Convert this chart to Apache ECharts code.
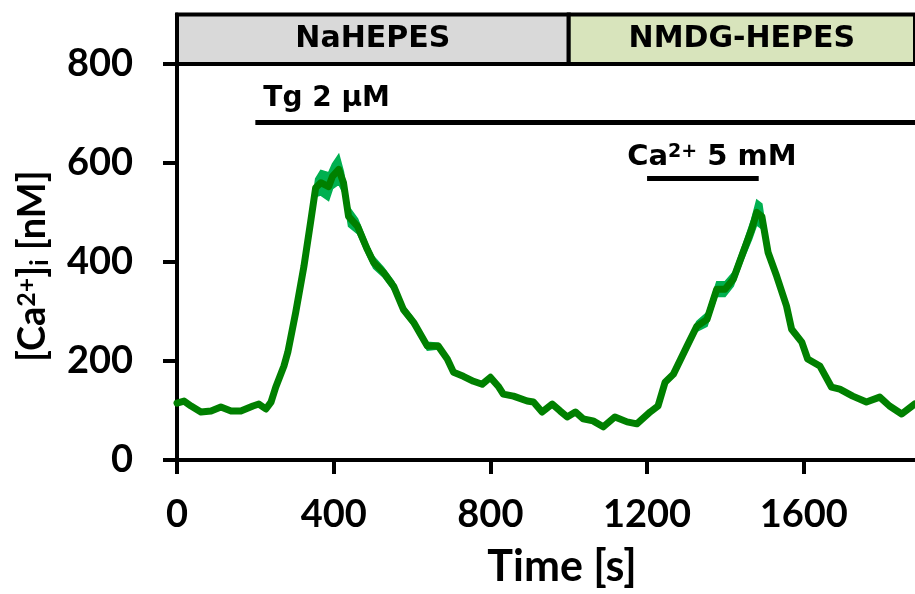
<!DOCTYPE html>
<html>
<head>
<meta charset="utf-8">
<script src="https://cdn.jsdelivr.net/npm/echarts@6/dist/echarts.min.js"></script>
<style>
html,body{margin:0;padding:0;background:#fff;}
#chart{width:915px;height:594px;}
</style>
</head>
<body>
<div id="chart"></div>
<script>
// Time points [s]
const time = [0,18,36,61,87,112,138,163,194,209,227,240,252,273,283,303,324,341,354,367,387,397,413,425,438,461,486,502,527,553,578,604,639,667,690,706,731,757,779,800,820,833,859,894,910,932,958,978,996,1017,1037,1062,1088,1118,1149,1174,1208,1228,1246,1267,1302,1327,1353,1378,1399,1420,1445,1467,1480,1493,1509,1531,1556,1569,1595,1610,1641,1671,1692,1725,1760,1794,1819,1850,1883];
// Mean [Ca2+]i [nM]
const meanCa = [115,119,109,97,99,107,99,99,109,113,103,117,147,190,218,298,391,480,550,560,552,573,587,560,492,472,425,399,379,351,304,278,230,230,204,177,169,159,153,167,149,133,129,119,117,97,113,99,87,97,83,79,67,87,77,73,97,109,157,173,230,270,284,345,345,365,419,466,500,492,419,371,311,264,238,204,190,147,143,129,117,127,109,93,113];
// SEM band half-width [nM]
const semCa = [3,3,3,3,3,3,3,3,3,3,3,4,5,6,6,8,10,12,18,25,28,25,30,22,20,15,12,12,10,10,8,8,8,6,5,4,4,4,3,3,3,3,3,3,3,3,3,3,3,3,3,3,3,3,3,3,3,4,6,6,10,10,14,15,15,14,15,20,25,25,12,8,7,6,6,5,4,3,3,3,3,3,3,3,3];

const xTicks = [0,400,800,1200,1600];
const yTicks = [0,200,400,600,800];

// Solution periods (header boxes)
const periods = [
  {name:'NaHEPES', start:0, end:1000, color:'#d9d9d9'},
  {name:'NMDG-HEPES', start:1000, end:1960, color:'#d8e4bc'}
];
// Application bars
const tgBar = {label:'Tg 2 µM', start:200, end:1884, level:682};
const caBar = {label:'Ca{sup|2+} 5 mM', start:1200, end:1485, level:570};

const TICKFONT = 'Lato';
const HFONT = 'DejaVu Sans';
const meanData = time.map((t,i)=>[t, meanCa[i]]);

const chart = echarts.init(document.getElementById('chart'), null, {renderer:'canvas'});
chart.setOption({
  animation:false,
  backgroundColor:'#ffffff',
  textStyle:{fontFamily:TICKFONT, fontWeight:'bold', color:'#000'},
  grid:{left:177, right:0, top:14.4, bottom:133.3, containLabel:false},
  xAxis:{
    type:'value', min:0, max:1884, interval:400,
    name:'Time [s]', nameLocation:'middle', nameGap:86,
    nameTextStyle:{fontFamily:TICKFONT, fontWeight:'bold', fontSize:43, color:'#000', padding:[0,0,0,32]},
    axisLine:{show:true, onZero:false, lineStyle:{color:'#000', width:4}},
    axisTick:{show:true, inside:false, length:14, lineStyle:{color:'#000', width:4}, customValues:xTicks},
    axisLabel:{fontFamily:TICKFONT, fontWeight:'bold', fontSize:38, color:'#000', margin:36, customValues:xTicks,
      formatter:v=>String(v)},
    splitLine:{show:false}
  },
  yAxis:{
    type:'value', min:0, max:900, interval:200,
    name:'[Ca{sup|2+}]{sub|i} [nM]', nameLocation:'middle', nameGap:125, nameRotate:90,
    nameTextStyle:{fontFamily:TICKFONT, fontWeight:'bold', fontSize:38, color:'#000', padding:[0,58,0,0],
      rich:{
        sup:{fontFamily:TICKFONT, fontWeight:'bold', fontSize:25, color:'#000', verticalAlign:'top', lineHeight:22},
        sub:{fontFamily:TICKFONT, fontWeight:'bold', fontSize:25, color:'#000', verticalAlign:'bottom', lineHeight:22}
      }},
    axisLine:{show:true, onZero:false, lineStyle:{color:'#000', width:4}},
    axisTick:{show:true, inside:false, length:14, lineStyle:{color:'#000', width:4}, customValues:yTicks},
    axisLabel:{fontFamily:TICKFONT, fontWeight:'bold', fontSize:38, color:'#000', margin:44, customValues:yTicks,
      formatter:v=>String(v)},
    splitLine:{show:false}
  },
  series:[
    {
      type:'custom', name:'sem', silent:true, z:1,
      data:[[0]],
      renderItem:function(params, api){
        const up = [], lo = [];
        for(let i=0;i<time.length;i++){
          up.push(api.coord([time[i], meanCa[i]+semCa[i]]));
          lo.push(api.coord([time[i], meanCa[i]-semCa[i]]));
        }
        return {type:'polygon', shape:{points:up.concat(lo.reverse())}, style:{fill:'#00b050', stroke:'#00b050', lineWidth:1.5}};
      }
    },
    {
      type:'line', name:'mean', data:meanData, symbol:'none', clip:false,
      lineStyle:{color:'#008000', width:7, join:'round', cap:'round'}, z:3,
      markArea:{
        silent:true,
        label:{show:true, position:'inside', fontFamily:HFONT, fontWeight:'bold', fontSize:30, color:'#000'},
        data: periods.map(p=>[
          {name:p.name, coord:[p.start, 800], itemStyle:{color:p.color, borderColor:'#000', borderWidth:4}},
          {coord:[p.end, 900]}
        ])
      },
      markLine:{
        silent:true, symbol:['none','none'],
        lineStyle:{color:'#000', width:5, type:'solid'},
        data:[
          [{coord:[tgBar.start, tgBar.level], label:{show:true, position:'insideStartTop', formatter:tgBar.label, fontFamily:HFONT, fontWeight:'bold', fontSize:28, color:'#000', distance:[8,10]}},
           {coord:[tgBar.end, tgBar.level]}],
          [{coord:[caBar.start, caBar.level], label:{show:true, position:'insideMiddleTop', formatter:caBar.label, fontFamily:HFONT, fontWeight:'bold', fontSize:29, color:'#000', distance:6, offset:[9,0],
             rich:{sup:{fontFamily:HFONT, fontWeight:'bold', fontSize:19, color:'#000', verticalAlign:'top', lineHeight:19}}}},
           {coord:[caBar.end, caBar.level]}]
        ]
      }
    }
  ]
});
</script>
</body>
</html>
